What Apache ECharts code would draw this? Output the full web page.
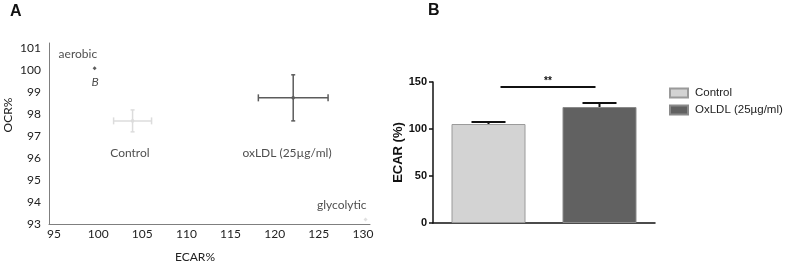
<!DOCTYPE html>
<html>
<head>
<meta charset="utf-8">
<script src="https://cdn.jsdelivr.net/npm/echarts@6/dist/echarts.min.js"></script>
<style>
html,body{margin:0;padding:0;background:#fff}
#chart{width:786px;height:265px}
</style>
</head>
<body>
<div id="chart"></div>
<script>
// panel A - OCR% against ECAR%
var groupNames = ['Control', 'oxLDL (25µg/ml)'];
var ecarMean = [103.9, 122.1];
var ecarErr = [2.15, 3.95];
var ocrMean = [97.7, 98.75];
var ocrErr = [0.5, 1.05];
var groupColors = ['#dcdcdc', '#5c5c5c'];
var refPoints = [[99.6, 100.1], [130.3, 93.2]];
var refColors = ['#333333', '#d8d8d8'];
var noteText = ['aerobic', 'B', 'Control', 'oxLDL (25µg/ml)', 'glycolytic'];
var notePos = [[97.7, 100.75], [99.65, 99.45], [103.6, 96.25], [121.4, 96.25], [127.6, 93.87]];
var xTicksA = [95, 100, 105, 110, 115, 120, 125, 130];
var yTicksA = [93, 94, 95, 96, 97, 98, 99, 100, 101];

// panel B - ECAR bars
var barNames = ['Control', 'OxLDL (25µg/ml)'];
var barValues = [105.3, 123.4];
var barErr = [2.1, 4.3];
var barColors = ['#d3d3d3', '#616161'];
var barBorders = ['#9a9a9a', '#8a8a8a'];
var sigLevel = 144.7;

var fontA = 'Lato, "Open Sans", sans-serif';
var fontB = '"Liberation Sans", Arial, sans-serif';

var mychart = echarts.init(document.getElementById('chart'));

var errA = [];
for (var i = 0; i < groupNames.length; i++) {
	errA.push([ecarMean[i], ocrMean[i], ecarErr[i], ocrErr[i], i]);
}
var notes = [];
for (var j = 0; j < noteText.length; j++) {
	notes.push({value: notePos[j], name: noteText[j],
		label: {fontStyle: j == 1 ? 'italic' : 'normal'}});
}
var refData = [];
for (var k = 0; k < refPoints.length; k++) {
	refData.push({value: refPoints[k], itemStyle: {color: refColors[k]}});
}

var option = {
	animation: false,
	textStyle: {fontFamily: fontA},
	grid: [
		{left: 49, top: 43, width: 321, height: 181},
		{left: 433, top: 82, width: 222, height: 141}
	],
	xAxis: [
		{
			type: 'value', gridIndex: 0, min: 94.43, max: 130.8,
			axisLine: {lineStyle: {color: '#7f7f7f', width: 1}},
			axisTick: {show: false},
			splitLine: {show: false},
			axisLabel: {customValues: xTicksA, color: '#222', fontSize: 12, margin: 4, fontFamily: fontA}
		},
		{
			type: 'category', gridIndex: 1, data: barNames,
			axisLine: {lineStyle: {color: '#111', width: 1.5}},
			axisTick: {show: false},
			axisLabel: {show: false}
		}
	],
	yAxis: [
		{
			type: 'value', gridIndex: 0, min: 93, max: 101.25,
			axisLine: {show: true, lineStyle: {color: '#7f7f7f', width: 1}},
			axisTick: {show: false},
			splitLine: {show: false},
			axisLabel: {customValues: yTicksA, color: '#222', fontSize: 12, margin: 8, fontFamily: fontA}
		},
		{
			type: 'value', gridIndex: 1, min: 0, max: 150, interval: 50,
			name: 'ECAR (%)', nameLocation: 'middle', nameGap: 24,
			nameTextStyle: {fontFamily: fontB, fontWeight: 'bold', fontSize: 13, color: '#111'},
			axisLine: {show: true, lineStyle: {color: '#111', width: 1.5}},
			axisTick: {show: true, length: 4, lineStyle: {color: '#111', width: 1.5}},
			splitLine: {show: false},
			axisLabel: {fontFamily: fontB, fontWeight: 'bold', fontSize: 11, color: '#111', margin: 6}
		}
	],
	legend: {
		orient: 'vertical', left: 669, top: 87, padding: 0,
		itemWidth: 18, itemHeight: 9, itemGap: 5,
		icon: 'rect',
		data: barNames,
		textStyle: {fontFamily: fontB, fontSize: 11.5, color: '#222', padding: [0, 0, 0, 2]}
	},
	graphic: [
		{type: 'text', x: 10, y: 4, style: {text: 'A', font: 'bold 16px "Liberation Sans", Arial', fill: '#111'}},
		{type: 'text', x: 428, y: 3, style: {text: 'B', font: 'bold 16px "Liberation Sans", Arial', fill: '#111'}},
		{type: 'text', x: 8, y: 115, rotation: Math.PI / 2,
			style: {text: 'OCR%', font: '12px Lato', fill: '#222', align: 'center', verticalAlign: 'middle'}},
		{type: 'text', x: 195, y: 257,
			style: {text: 'ECAR%', font: '12px Lato', fill: '#222', align: 'center', verticalAlign: 'middle'}}
	],
	series: [
		{
			type: 'custom', xAxisIndex: 0, yAxisIndex: 0,
			data: errA,
			renderItem: function (params, api) {
				var x = api.value(0), y = api.value(1), ex = api.value(2), ey = api.value(3);
				var col = groupColors[api.value(4)];
				var c = api.coord([x, y]);
				var l = api.coord([x - ex, y]), r = api.coord([x + ex, y]);
				var t = api.coord([x, y + ey]), b = api.coord([x, y - ey]);
				var st = {stroke: col, lineWidth: 1.5};
				return {type: 'group', children: [
					{type: 'line', shape: {x1: l[0], y1: l[1], x2: r[0], y2: r[1]}, style: st},
					{type: 'line', shape: {x1: t[0], y1: t[1], x2: b[0], y2: b[1]}, style: st},
					{type: 'line', shape: {x1: l[0], y1: l[1] - 3.5, x2: l[0], y2: l[1] + 3.5}, style: st},
					{type: 'line', shape: {x1: r[0], y1: r[1] - 3.5, x2: r[0], y2: r[1] + 3.5}, style: st},
					{type: 'line', shape: {x1: t[0] - 2, y1: t[1], x2: t[0] + 2, y2: t[1]}, style: st},
					{type: 'line', shape: {x1: b[0] - 2, y1: b[1], x2: b[0] + 2, y2: b[1]}, style: st},
					{type: 'circle', shape: {cx: c[0], cy: c[1], r: 1.8}, style: {fill: col}}
				]};
			}
		},
		{
			type: 'scatter', xAxisIndex: 0, yAxisIndex: 0,
			symbol: 'diamond', symbolSize: 4,
			data: refData
		},
		{
			type: 'scatter', xAxisIndex: 0, yAxisIndex: 0,
			symbolSize: 0,
			data: notes,
			label: {show: true, position: 'inside', formatter: '{b}', color: '#222', fontSize: 12, fontFamily: fontA}
		},
		{
			name: barNames[0], type: 'bar', xAxisIndex: 1, yAxisIndex: 1, stack: 'b',
			barWidth: 74,
			itemStyle: {color: barColors[0], borderColor: barBorders[0], borderWidth: 1},
			data: [barValues[0], '-']
		},
		{
			name: barNames[1], type: 'bar', xAxisIndex: 1, yAxisIndex: 1, stack: 'b',
			barWidth: 74,
			itemStyle: {color: barColors[1], borderColor: barBorders[1], borderWidth: 1},
			data: ['-', barValues[1]]
		},
		{
			type: 'custom', xAxisIndex: 1, yAxisIndex: 1, z: 5,
			data: [[0, barValues[0], barErr[0]], [1, barValues[1], barErr[1]]],
			renderItem: function (params, api) {
				var v = api.value(1), e = api.value(2);
				var b = api.coord([api.value(0), v]);
				var t = api.coord([api.value(0), v + e]);
				var st = {stroke: '#111', lineWidth: 2};
				return {type: 'group', children: [
					{type: 'line', shape: {x1: b[0], y1: b[1], x2: t[0], y2: t[1]}, style: st},
					{type: 'line', shape: {x1: t[0] - 17, y1: t[1], x2: t[0] + 17, y2: t[1]}, style: st}
				]};
			}
		},
		{
			type: 'custom', xAxisIndex: 1, yAxisIndex: 1, z: 5,
			data: [[0, 1, sigLevel]],
			renderItem: function (params, api) {
				var a = api.coord([api.value(0), api.value(2)]);
				var b = api.coord([api.value(1), api.value(2)]);
				return {type: 'group', children: [
					{type: 'line', shape: {x1: a[0] + 12, y1: a[1], x2: b[0] - 4, y2: b[1]}, style: {stroke: '#111', lineWidth: 2}},
					{type: 'text', x: (a[0] + b[0]) / 2 + 4, y: a[1] - 6,
						style: {text: '**', font: 'bold 10px "Liberation Sans"', fill: '#111', align: 'center', verticalAlign: 'middle'}}
				]};
			}
		}
	]
};
mychart.setOption(option);
</script>
</body>
</html>
